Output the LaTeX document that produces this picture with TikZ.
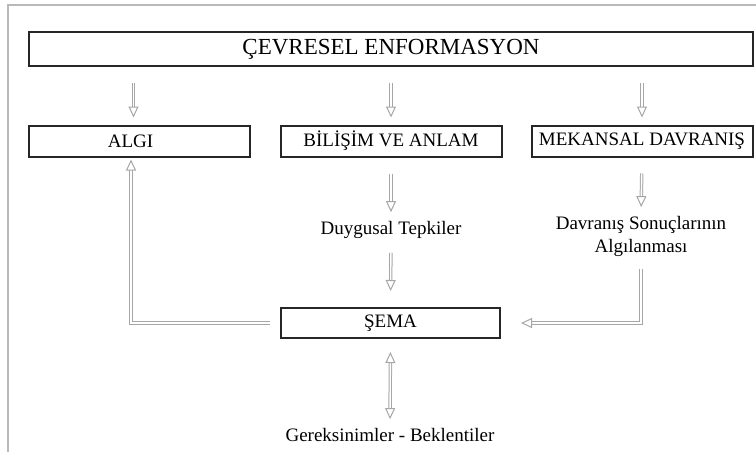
\documentclass[tikz,border=0pt]{standalone}
\usepackage{fontspec}
\setmainfont{Liberation Serif}
\usetikzlibrary{arrows.meta}
\usetikzlibrary{calc}

\begin{document}
\begin{tikzpicture}[x=1pt,y=-1pt,
			frame/.style={draw=gray!55, line width=1.8pt},
			box/.style={draw=black!85, line width=2pt, minimum height=31pt, minimum width=221pt, inner sep=0pt, font=\fontsize{19}{22}\selectfont},
			topbox/.style={box, minimum height=34pt, minimum width=724pt, font=\fontsize{23}{26}\selectfont},
			label/.style={inner sep=0pt, align=center, font=\fontsize{19}{23}\selectfont},
			tip/.tip={Triangle[open,length=11pt,width=10pt,fill=white,line width=1pt]},
			hollow/.style={draw=gray!70, line width=1pt, double=white, double distance=1.4pt, -tip},
			hollowboth/.style={hollow, tip-tip}
			]
			\useasboundingbox (0,0) rectangle (756,451);
			
			%% frame
			\draw[frame] (8,452) -- (8,5) -- (757,5);
			
			%% boxes
			\node[topbox] (cevre) at (391,49) {ÇEVRESEL ENFORMASYON};
			\node[box] (algi) at (139.5,141) {\hspace*{-18pt}ALGI};
			\node[box] (bilisim) at (391,141) {BİLİŞİM VE ANLAM};
			\node[box] (mekan) at (642,141) {MEKANSAL DAVRANIŞ};
			\node[box, minimum width=219pt, minimum height=30pt] (sema) at (390.5,323) {ŞEMA};
			
			%% texts
			\node[label] (duygu) at (391,230) {Duygusal Tepkiler};
			\node[label] (sonuc) at (641,236.5) {Davranış Sonuçlarının\\Algılanması};
			\node[label] (gerek) at (390,435) {Gereksinimler - Beklentiler};
			
			%% arrows
			\draw[hollow, shorten <=16pt, shorten >=7pt] ([xshift=-6pt]algi.north |- cevre.south) -- ([xshift=-6pt]algi.north);
			\draw[hollow, shorten <=16pt, shorten >=7pt] (bilisim.north |- cevre.south) -- (bilisim.north);
			\draw[hollow, shorten <=16pt, shorten >=7pt] (mekan.north |- cevre.south) -- (mekan.north);
			
			\draw[hollow, shorten <=16pt, shorten >=9pt] (bilisim.south) -- (duygu.north);
			\draw[hollow, shorten <=14pt, shorten >=16pt] (duygu.south) -- (sema.north);
			\draw[hollow, shorten <=16pt, shorten >=9pt] (mekan.south) -- (sonuc.north);
			
			%% feedback lines
			\coordinate (corner) at ($(sema.west)+(-149,0)$);
			\draw[hollow, shorten >=2pt] ([xshift=-10pt]sema.west) -- (corner) -- (corner |- algi.south);
			\draw[hollow, shorten <=12pt, shorten >=20pt] (sonuc.south) |- (sema.east);
			
			\draw[hollowboth, shorten <=13pt, shorten >=9pt] (sema.south) -- (gerek.north);
			
\end{tikzpicture}
\end{document}
